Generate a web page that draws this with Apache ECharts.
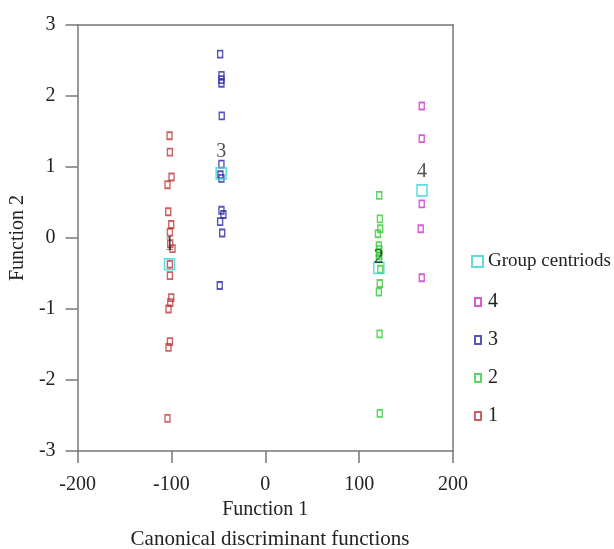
<!DOCTYPE html>
<html><head><meta charset="utf-8">
<script src="https://cdn.jsdelivr.net/npm/echarts@6/dist/echarts.min.js"></script>
<style>html,body{margin:0;padding:0;background:#fff}#c{width:614px;height:549px}</style>
</head><body><div id="c"></div>
<script>
var xTicks = [-200, -100, 0, 100, 200];
var yTicks = [-3, -2, -1, 0, 1, 2, 3];

var g1x = [-102, -101.6, -99.9, -104.2, -103.4, -100.2, -101.6, -101.3, -98.8, -101.6, -101.6, -100.2, -101.3, -103.1, -101.6, -103.1, -104.2];
var g1y = [1.44, 1.21, 0.86, 0.75, 0.37, 0.19, 0.08, -0.08, -0.15, -0.37, -0.53, -0.84, -0.91, -1.0, -1.46, -1.54, -2.54];

var g2x = [121.4, 122.1, 122.5, 120, 121, 121.5, 121, 121.5, 121, 122.5, 122, 121, 121.8, 122];
var g2y = [0.60, 0.27, 0.13, 0.06, -0.11, -0.16, -0.21, -0.25, -0.29, -0.44, -0.64, -0.76, -1.35, -2.47];

var g3x = [-48.1, -46.7, -46.7, -46.7, -46.4, -46.7, -47.8, -46.7, -46.7, -44.6, -48.1, -45.9, -48.5];
var g3y = [2.59, 2.29, 2.23, 2.18, 1.72, 1.04, 0.89, 0.84, 0.39, 0.33, 0.23, 0.07, -0.67];

var g4x = [166.7, 166.7, 166.7, 165.6, 166.7];
var g4y = [1.86, 1.40, 0.48, 0.13, -0.56];

var centroidNames = ['1', '2', '3', '4'];
var centroidX = [-102, 121, -47, 167];
var centroidY = [-0.37, -0.42, 0.91, 0.67];

var FONT = 'Liberation Serif';
function pts(xs, ys) { return xs.map(function (x, i) { return [x, ys[i]]; }); }
function grp(name, xs, ys, color) {
  return {
    name: name, type: 'scatter', symbol: 'rect', symbolSize: [5, 7],
    itemStyle: { color: 'rgba(255,255,255,0)', borderColor: color, borderWidth: 1.6 },
    emphasis: { disabled: true },
    data: pts(xs, ys), z: 3
  };
}
var labelOffsets = [[0, -20], [0, -10], [0, -22], [0, -19]];
var centroidData = centroidX.map(function (x, i) {
  return {
    value: [x, centroidY[i]], name: centroidNames[i],
    label: { show: true, formatter: centroidNames[i], position: 'inside', offset: labelOffsets[i],
      color: '#222', fontFamily: FONT, fontSize: 20 }
  };
});

var chart = echarts.init(document.getElementById('c'));
var axisLineStyle = { color: '#777', width: 1.5 };
chart.setOption({
  animation: false,
  grid: { left: 77, right: 161, top: 25, bottom: 98, show: false },
  xAxis: [{
    type: 'value', min: -200, max: 200, interval: 100, position: 'bottom',
    axisLine: { show: true, onZero: false, lineStyle: axisLineStyle },
    axisTick: { show: true, inside: false, length: 12, lineStyle: axisLineStyle },
    axisLabel: { fontFamily: FONT, fontSize: 20, color: '#222', margin: 24,
      formatter: function (v) { return xTicks.indexOf(v) >= 0 ? String(v) : ''; } },
    splitLine: { show: false },
    name: 'Function 1', nameLocation: 'middle', nameGap: 49,
    nameTextStyle: { fontFamily: FONT, fontSize: 20, color: '#222' }
  }, {
    type: 'value', min: -200, max: 200, interval: 100, position: 'top',
    axisLine: { show: true, onZero: false, lineStyle: axisLineStyle },
    axisTick: { show: false }, axisLabel: { show: false }, splitLine: { show: false }
  }],
  yAxis: [{
    type: 'value', min: -3, max: 3, interval: 1, position: 'left',
    axisLine: { show: true, onZero: false, lineStyle: axisLineStyle },
    axisTick: { show: true, inside: false, length: 12, lineStyle: axisLineStyle },
    axisLabel: { fontFamily: FONT, fontSize: 20, color: '#222', margin: 22,
      formatter: function (v) { return yTicks.indexOf(v) >= 0 ? String(v) : ''; } },
    splitLine: { show: false },
    name: 'Function 2', nameLocation: 'middle', nameGap: 44, nameRotate: 90,
    nameTextStyle: { fontFamily: FONT, fontSize: 20, color: '#222' }
  }, {
    type: 'value', min: -3, max: 3, interval: 1, position: 'right',
    axisLine: { show: true, onZero: false, lineStyle: axisLineStyle },
    axisTick: { show: false }, axisLabel: { show: false }, splitLine: { show: false }
  }],
  title: {
    text: 'Canonical discriminant functions', left: 265, top: 524, textAlign: 'center',
    textStyle: { fontFamily: FONT, fontSize: 21, fontWeight: 'normal', color: '#222' }
  },
  legend: [{
    data: ['Group centriods'], orient: 'vertical', left: 466, top: 247,
    itemWidth: 11, itemHeight: 11, itemGap: 10, selectedMode: false,
    textStyle: { fontFamily: FONT, fontSize: 19, color: '#222' }
  }, {
    data: ['4', '3', '2', '1'], orient: 'vertical', left: 469, top: 287,
    itemWidth: 6, itemHeight: 8, itemGap: 18, selectedMode: false,
    textStyle: { fontFamily: FONT, fontSize: 20, color: '#222', padding: [0, 0, 0, 2] }
  }],
  series: [
    grp('1', g1x, g1y, '#c03838'),
    grp('2', g2x, g2y, '#33cc33'),
    grp('3', g3x, g3y, '#2a2aa8'),
    grp('4', g4x, g4y, '#cc33cc'),
    {
      name: 'Group centriods', type: 'scatter', symbol: 'rect', symbolSize: [10, 11],
      itemStyle: { color: 'rgba(255,255,255,0)', borderColor: '#33d6d6', borderWidth: 1.6 },
      emphasis: { disabled: true },
      data: centroidData, z: 4
    }
  ]
});
</script></body></html>
